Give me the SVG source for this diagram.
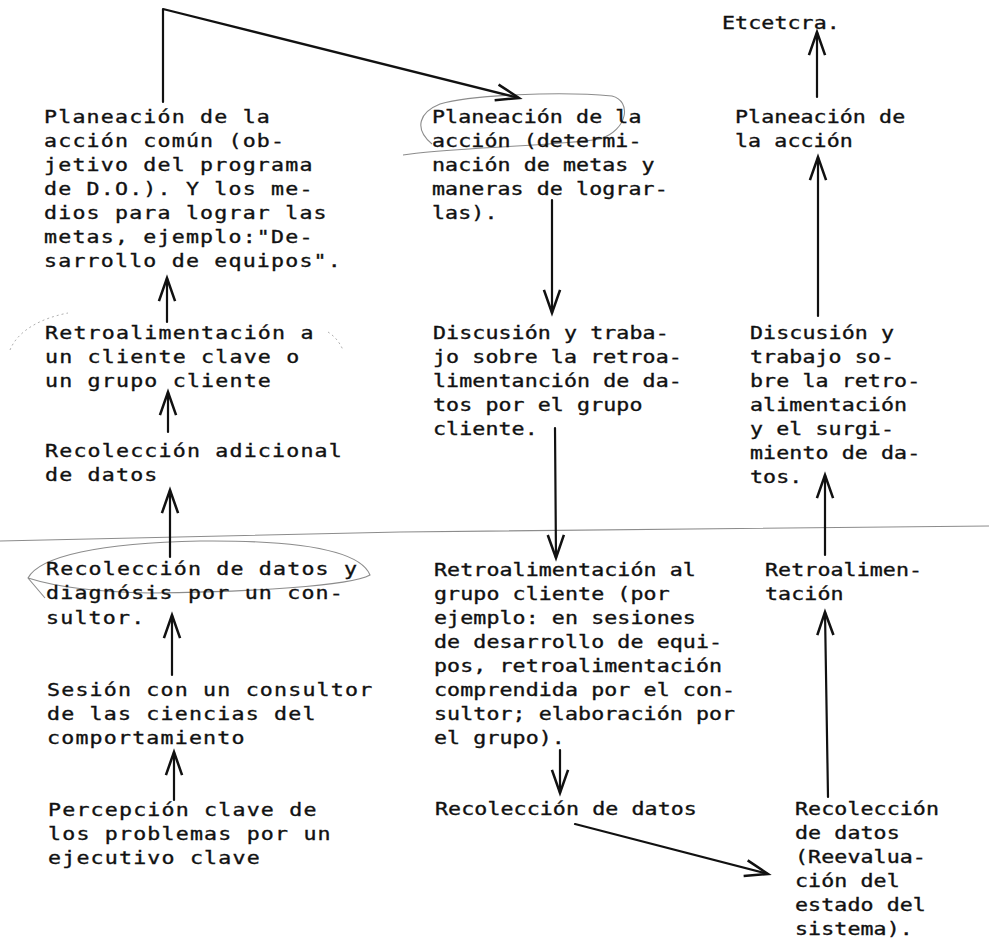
<svg xmlns="http://www.w3.org/2000/svg" width="989" height="940" viewBox="0 0 989 940">
<style>
text{font-family:"DejaVu Sans Mono","Liberation Mono",monospace;font-size:18px;font-weight:normal;fill:#111;stroke:#111;stroke-width:0.35px}
.a text{letter-spacing:0.99px}
.b text{letter-spacing:0.08px}
.c{fill:none;stroke:#111;stroke-width:2.2;stroke-linecap:round;stroke-linejoin:round}
.p{fill:none;stroke:#8c8c8c;stroke-width:1.1}
.f{fill:none;stroke:#b0b0b0;stroke-width:1;stroke-dasharray:2 3}
</style>
<defs>
<marker id="ah" markerUnits="userSpaceOnUse" markerWidth="30" markerHeight="30" refX="0" refY="0" viewBox="-22 -12 26 24" orient="auto">
<path d="M-20,-7 L0,0 L-20,7" fill="none" stroke="#111" stroke-width="2.2" stroke-linejoin="miter"/>
</marker>
</defs>
<rect width="989" height="940" fill="#fff"/>
<polyline class="p" points="0,541 400,532 989,526" stroke="#777"/>
<g id="pencil">
<path class="p" d="M403,155 C440,148 560,146 600,139 C628,130 632,101 612,96 C560,91 470,95 440,104 C420,112 413,128 432,144"/>
<path class="p" d="M45,598 L28,578 C40,556 100,543 200,541 C300,540 360,550 370,575 C350,586 250,592 150,593 C90,592 50,585 28,578"/>
<path class="f" d="M10,350 C18,330 42,318 68,313"/>
<path class="f" d="M328,332 C334,336 339,341 343,350"/>
</g>
<g id="connectors">
<path class="c" d="M163,102 L163,9 L519,98" marker-end="url(#ah)"/>
<path class="c" d="M167,322 L167,278" marker-end="url(#ah)"/>
<path class="c" d="M168,432 L168,392" marker-end="url(#ah)"/>
<path class="c" d="M170,557 L170,490" marker-end="url(#ah)"/>
<path class="c" d="M172,675 L172,615" marker-end="url(#ah)"/>
<path class="c" d="M174,800 L174,752" marker-end="url(#ah)"/>
<path class="c" d="M552,200 L552,313" marker-end="url(#ah)"/>
<path class="c" d="M555,428 L556,558" marker-end="url(#ah)"/>
<path class="c" d="M560,750 L560,793" marker-end="url(#ah)"/>
<path class="c" d="M575,824 L768,874" marker-end="url(#ah)"/>
<path class="c" d="M828,797 L825,612" marker-end="url(#ah)"/>
<path class="c" d="M825,555 L825,475" marker-end="url(#ah)"/>
<path class="c" d="M818,316 L818,157" marker-end="url(#ah)"/>
<path class="c" d="M817,97 L817,32" marker-end="url(#ah)"/>
</g>
<g id="n1" class="a" transform="translate(44,0) scale(1.2,1)">
<text x="0" y="123">Planeación de la</text>
<text x="0" y="147">acción común (ob-</text>
<text x="0" y="171">jetivo del programa</text>
<text x="0" y="195">de D.O.). Y los me-</text>
<text x="0" y="219">dios para lograr las</text>
<text x="0" y="243">metas, ejemplo:"De-</text>
<text x="0" y="267">sarrollo de equipos".</text>
</g>
<g id="n2" class="a" transform="translate(45,0) scale(1.2,1)">
<text x="0" y="339">Retroalimentación a</text>
<text x="0" y="363">un cliente clave o</text>
<text x="0" y="387">un grupo cliente</text>
</g>
<g id="n3" class="a" transform="translate(45,0) scale(1.2,1)">
<text x="0" y="457">Recolección adicional</text>
<text x="0" y="481">de datos</text>
</g>
<g id="n4" class="a" transform="translate(46,0) scale(1.2,1)">
<text x="0" y="575">Recolección de datos y</text>
<text x="0" y="599">diagnósis por un con-</text>
<text x="0" y="624">sultor.</text>
</g>
<g id="n5" class="a" transform="translate(47,0) scale(1.2,1)">
<text x="0" y="696">Sesión con un consultor</text>
<text x="0" y="720">de las ciencias del</text>
<text x="0" y="744">comportamiento</text>
</g>
<g id="n6" class="a" transform="translate(48,0) scale(1.2,1)">
<text x="0" y="816">Percepción clave de</text>
<text x="0" y="840">los problemas por un</text>
<text x="0" y="864">ejecutivo clave</text>
</g>
<g id="n7" class="b" transform="translate(432,0) scale(1.2,1)">
<text x="0" y="123">Planeación de la</text>
<text x="0" y="147">acción (determi-</text>
<text x="0" y="171">nación de metas y</text>
<text x="0" y="195">maneras de lograr-</text>
<text x="0" y="219">las).</text>
</g>
<g id="n8" class="b" transform="translate(433,0) scale(1.2,1)">
<text x="0" y="339">Discusión y traba-</text>
<text x="0" y="363">jo sobre la retroa-</text>
<text x="0" y="387">limentanción de da-</text>
<text x="0" y="411">tos por el grupo</text>
<text x="0" y="435">cliente.</text>
</g>
<g id="n9" class="b" transform="translate(434,0) scale(1.2,1)">
<text x="0" y="576">Retroalimentación al</text>
<text x="0" y="600">grupo cliente (por</text>
<text x="0" y="624">ejemplo: en sesiones</text>
<text x="0" y="648">de desarrollo de equi-</text>
<text x="0" y="672">pos, retroalimentación</text>
<text x="0" y="696">comprendida por el con-</text>
<text x="0" y="720">sultor; elaboración por</text>
<text x="0" y="744">el grupo).</text>
</g>
<g id="n10" class="b" transform="translate(435,0) scale(1.2,1)">
<text x="0" y="815">Recolección de datos</text>
</g>
<g id="n11" class="b" transform="translate(722,0) scale(1.2,1)">
<text x="0" y="29">Etcetcra.</text>
</g>
<g id="n12" class="b" transform="translate(735,0) scale(1.2,1)">
<text x="0" y="123">Planeación de</text>
<text x="0" y="147">la acción</text>
</g>
<g id="n13" class="b" transform="translate(750,0) scale(1.2,1)">
<text x="0" y="339">Discusión y</text>
<text x="0" y="363">trabajo so-</text>
<text x="0" y="387">bre la retro-</text>
<text x="0" y="411">alimentación</text>
<text x="0" y="435">y el surgi-</text>
<text x="0" y="459">miento de da-</text>
<text x="0" y="483">tos.</text>
</g>
<g id="n14" class="b" transform="translate(765,0) scale(1.2,1)">
<text x="0" y="576">Retroalimen-</text>
<text x="0" y="600">tación</text>
</g>
<g id="n15" class="b" transform="translate(795,0) scale(1.2,1)">
<text x="0" y="815">Recolección</text>
<text x="0" y="839">de datos</text>
<text x="0" y="863">(Reevalua-</text>
<text x="0" y="887">ción del</text>
<text x="0" y="911">estado del</text>
<text x="0" y="935">sistema).</text>
</g>
</svg>
